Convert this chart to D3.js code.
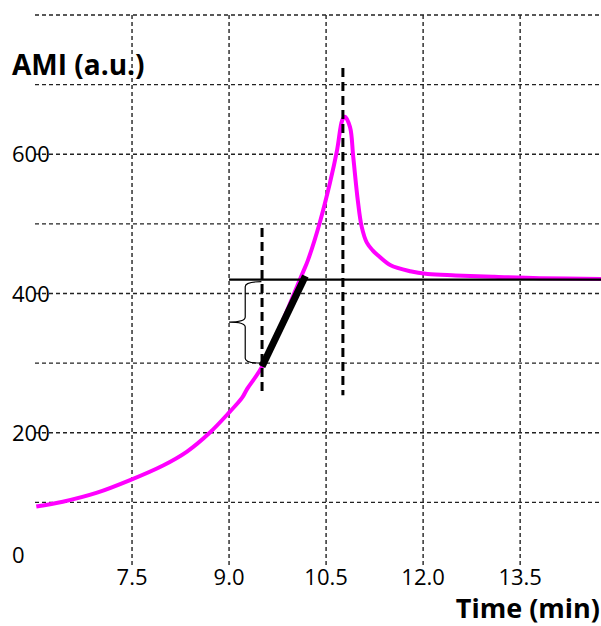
<!DOCTYPE html>
<html><head><meta charset="utf-8">
<script src="https://cdn.jsdelivr.net/npm/d3@7"></script>
<style>body{margin:0;background:#fff;} svg{display:block;} text{font-family:"Open Sans",sans-serif;fill:#000;}</style>
</head><body>
<svg id="c" width="601" height="626"></svg>
<script>
// Data
const timeMin = [6.02, 6.43, 6.96, 7.47, 7.98, 8.35, 8.70, 9.01, 9.20, 9.28, 9.51, 10.14, 10.22, 10.40, 10.56, 10.67, 10.75, 10.79, 10.87, 10.92, 10.99, 11.05, 11.13, 11.22, 11.30, 11.49, 11.80, 12.07, 12.50, 13.10, 13.80, 14.75];
const ami     = [94, 101, 114, 132, 153, 173, 200, 230, 250, 263, 295, 430, 448, 501, 559, 606, 649, 654, 639, 596, 534, 496, 473, 462, 455, 441, 432, 428, 426, 424, 422, 421];
const xTicks = [7.5, 9.0, 10.5, 12.0, 13.5];
const yTickLabels = [0, 200, 400, 600];
const yGrid = [100, 200, 300, 400, 500, 600, 700, 800];
const baseline = 420;            // horizontal reference level
const baselineStart = 9.0;
const onsetT = 9.51, peakT = 10.76;
const vLineLow = 254, onsetHigh = 494, peakHigh = 724;
const tangent = [[9.51, 295], [10.18, 425]];
const brace = {t: 9.25, tip: 9.0, tEnd: 9.5, lo: 300, hi: 417, mid: 359};

const svg = d3.select("#c");
const x = d3.scaleLinear().domain([6.0, 14.75]).range([35, 601]);
const y = d3.scaleLinear().domain([0, 800]).range([572, 15]);

// grid
svg.append("g").selectAll("line").data(yGrid).join("line")
  .attr("x1", x(6.0)).attr("x2", x(14.75))
  .attr("y1", d => y(d)).attr("y2", d => y(d))
  .attr("stroke", "#222").attr("stroke-width", 1.4).attr("stroke-dasharray", "4,3");
svg.append("g").selectAll("line").data(xTicks).join("line")
  .attr("x1", d => x(d)).attr("x2", d => x(d))
  .attr("y1", y(800)).attr("y2", y(0) - 7)
  .attr("stroke", "#222").attr("stroke-width", 1.4).attr("stroke-dasharray", "4,3");

// tick labels
svg.append("g").selectAll("text").data(xTicks).join("text")
  .attr("x", d => x(d)).attr("y", 585).attr("text-anchor", "middle")
  .attr("font-size", 22).text(d => d.toFixed(1));
svg.append("g").selectAll("text").data(yTickLabels).join("text")
  .attr("x", 12).attr("y", d => d === 0 ? y(d) - 9 : y(d) + 8)
  .attr("font-size", 22).text(d => d);

// axis titles
svg.append("text").attr("x", 12).attr("y", 75).attr("font-size", 28).attr("font-weight", "bold").text("AMI (a.u.)");
svg.append("text").attr("x", 600).attr("y", 618).attr("text-anchor", "end").attr("font-size", 27).attr("font-weight", "bold").text("Time (min)");

// curve
const line = d3.line().x(d => x(d[0])).y(d => y(d[1])).curve(d3.curveCatmullRom.alpha(0.5));
svg.append("path").datum(timeMin.map((t, i) => [t, ami[i]]))
  .attr("d", line).attr("fill", "none").attr("stroke", "#ff00ff").attr("stroke-width", 4);

// baseline
svg.append("line").attr("x1", x(baselineStart)).attr("x2", x(14.75))
  .attr("y1", y(baseline)).attr("y2", y(baseline)).attr("stroke", "#000").attr("stroke-width", 2.2);

// vertical dashed markers
[[onsetT, onsetHigh], [peakT, peakHigh]].forEach(([t, hi]) => {
  svg.append("line").attr("x1", x(t)).attr("x2", x(t)).attr("y1", y(hi)).attr("y2", y(vLineLow))
    .attr("stroke", "#000").attr("stroke-width", 3).attr("stroke-dasharray", "9,5");
});

// tangent
svg.append("line").attr("x1", x(tangent[0][0])).attr("y1", y(tangent[0][1]))
  .attr("x2", x(tangent[1][0])).attr("y2", y(tangent[1][1]))
  .attr("stroke", "#000").attr("stroke-width", 7);

// brace
const bx = x(brace.t), bt = x(brace.tip), be = x(brace.tEnd);
const yt = y(brace.hi), yb = y(brace.lo), ym = y(brace.mid);
const p = d3.path();
p.moveTo(be, yt);
p.quadraticCurveTo(bx, yt, bx, yt + 5);
p.lineTo(bx, ym - 5);
p.quadraticCurveTo(bx, ym, bt, ym);
p.quadraticCurveTo(bx, ym, bx, ym + 5);
p.lineTo(bx, yb - 5);
p.quadraticCurveTo(bx, yb, be, yb);
svg.append("path").attr("d", p.toString()).attr("fill", "none").attr("stroke", "#000").attr("stroke-width", 1.2);
</script>
</body></html>
